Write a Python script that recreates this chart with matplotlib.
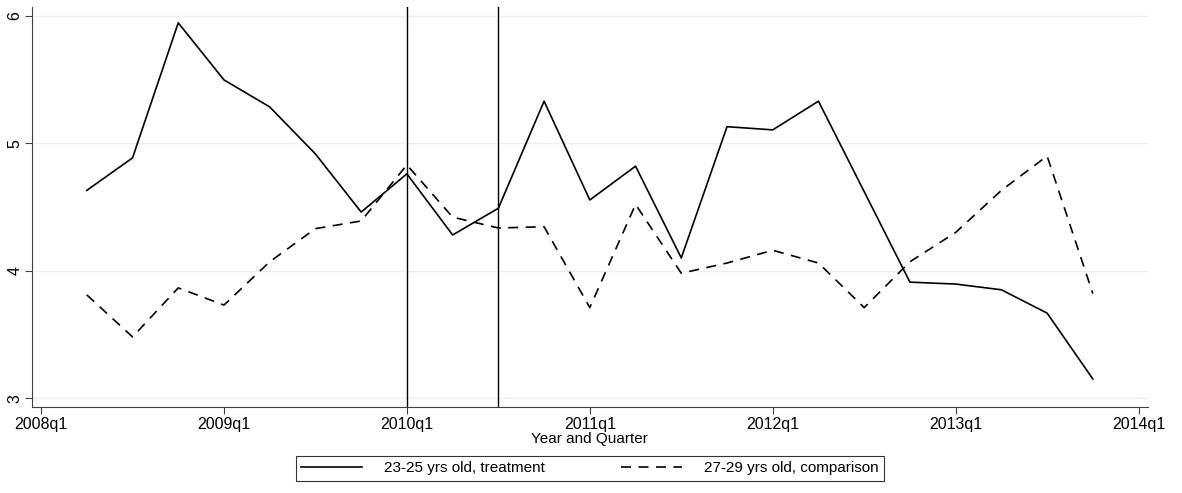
import numpy as np
import matplotlib as mpl
from matplotlib import pyplot as plt

mpl.rcParams['font.family'] = ['Liberation Sans', 'DejaVu Sans']

# quarter index, 0 = 2008q1
quarters = list(range(1, 24))  # 2008q2 .. 2013q4

# 23-25 yrs old, treatment
treat = [4.63, 4.885, 5.945, 5.497, 5.285, 4.916, 4.46, 4.76, 4.28, 4.49,
         5.33, 4.555, 4.82, 4.10, 5.13, 5.105, 5.33, 4.62, 3.91, 3.895,
         3.85, 3.667, 3.15]

# 27-29 yrs old, comparison
comp = [3.81, 3.48, 3.865, 3.73, 4.07, 4.33, 4.39, 4.83, 4.42, 4.335,
        4.345, 3.71, 4.52, 3.98, 4.06, 4.16, 4.06, 3.71, 4.07, 4.30,
        4.63, 4.90, 3.82]

tick_pos = [0, 4, 8, 12, 16, 20, 24]
tick_lab = ['2008q1', '2009q1', '2010q1', '2011q1', '2012q1', '2013q1', '2014q1']
vlines = [8, 10]  # 2010q1, 2010q3


def main():
    fig, ax = plt.subplots(figsize=(11.82, 4.93), dpi=100)
    fig.subplots_adjust(left=0.027, right=0.971, bottom=0.1744, top=0.986)

    for y in [3, 4, 5, 6]:
        ax.axhline(y, color='#e8f0f2', lw=1.0, zorder=0)
    for v in vlines:
        ax.axvline(v, color='black', lw=1.0, zorder=1)

    ax.plot(quarters, treat, color='black', lw=1.2, ls='-',
            label='23-25 yrs old, treatment', zorder=3)
    ax.plot(quarters, comp, color='black', lw=1.2, ls=(0, (6, 4.5)),
            label='27-29 yrs old, comparison', zorder=3)

    ax.set_xlim(-0.2, 24.2)
    ax.set_ylim(2.93, 6.07)
    ax.set_xticks(tick_pos)
    ax.set_xticklabels(tick_lab, fontsize=11.5)
    ax.set_yticks([3, 4, 5, 6])
    ax.set_yticklabels(['3', '4', '5', '6'], fontsize=11.5, rotation=90, va='center')
    ax.tick_params(axis='both', length=5, width=0.8, color='#404040', pad=2)
    ax.spines['top'].set_visible(False)
    ax.spines['right'].set_visible(False)
    ax.spines['left'].set_color('#404040')
    ax.spines['bottom'].set_color('#404040')
    ax.set_xlabel('Year and Quarter', fontsize=11, labelpad=0)

    leg = ax.legend(loc='upper center', bbox_to_anchor=(0.5, -0.103), ncol=2,
                    fontsize=11, frameon=True, fancybox=False, edgecolor='black',
                    handlelength=4.0, columnspacing=5.0, borderpad=0.35,
                    handletextpad=1.4)
    leg.get_frame().set_linewidth(0.8)

    fig.savefig('out.png', dpi=100)


if __name__ == '__main__':
    main()
